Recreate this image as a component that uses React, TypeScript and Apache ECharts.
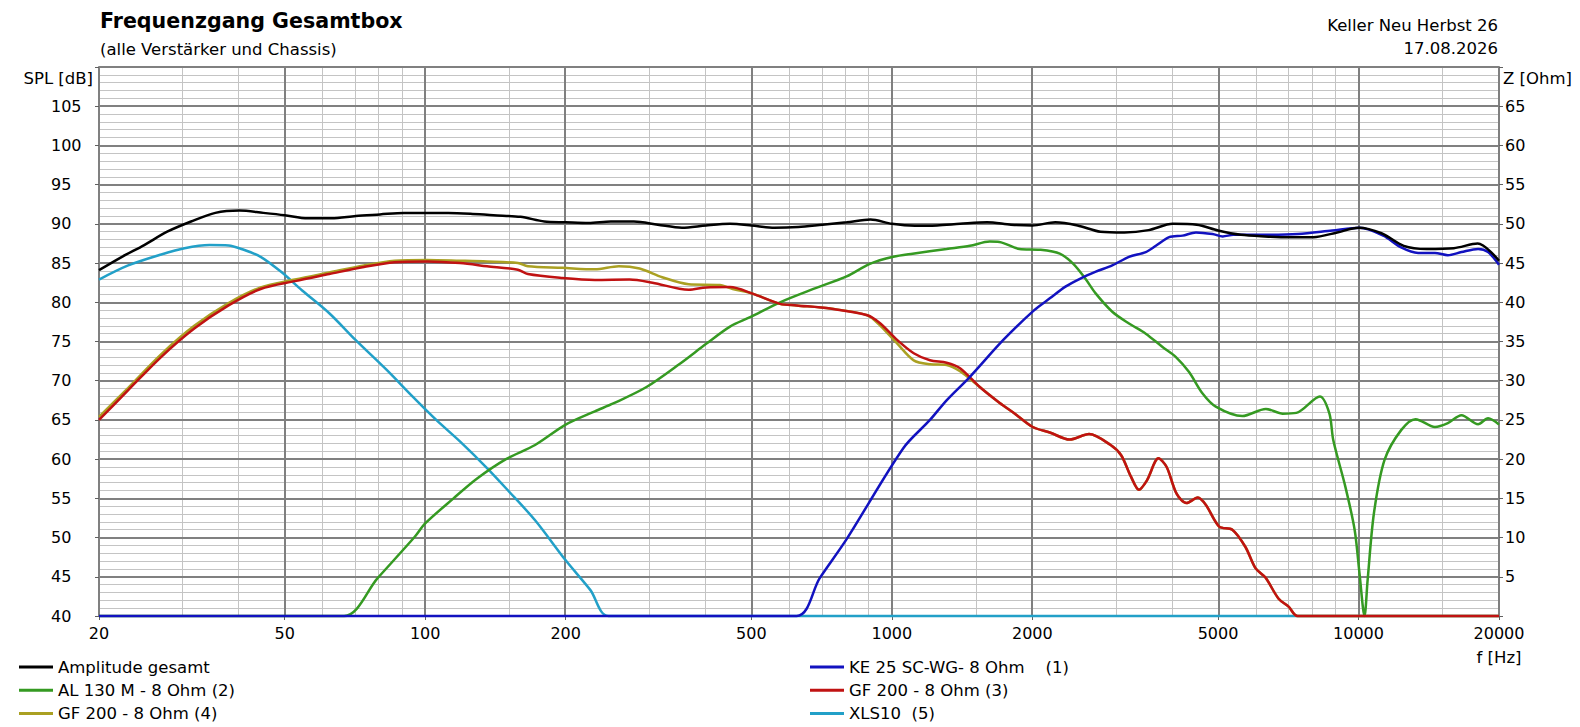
import React, { useEffect, useRef } from 'react';
import * as echarts from 'echarts';

const FONT = '"DejaVu Sans", Verdana, sans-serif';

// ---------- data (frequency in Hz, SPL in dB) ----------
// Amplitude gesamt
const totalFreq = [20, 22.4, 25, 28, 31.5, 35.5, 40, 45, 50, 56, 63, 71, 80, 90, 100, 112, 125, 140, 160, 180, 200, 224, 250, 280, 315, 355, 400, 450, 500, 560, 630, 710, 800, 900, 1000, 1120, 1250, 1400, 1600, 1800, 2000, 2240, 2500, 2800, 3150, 3550, 4000, 4500, 5000, 5600, 6300, 7100, 8000, 9000, 10000, 11200, 12500, 14000, 16000, 18000, 20000];
const totalSpl = [84.1, 85.8, 87.3, 89.0, 90.3, 91.4, 91.7, 91.4, 91.1, 90.7, 90.7, 91.0, 91.2, 91.4, 91.4, 91.4, 91.3, 91.1, 90.9, 90.3, 90.2, 90.1, 90.3, 90.3, 89.9, 89.5, 89.8, 90.0, 89.8, 89.5, 89.6, 89.9, 90.2, 90.55, 90.0, 89.75, 89.8, 90.0, 90.2, 89.9, 89.8, 90.2, 89.8, 89.0, 88.9, 89.2, 90.0, 89.9, 89.15, 88.6, 88.4, 88.3, 88.3, 88.9, 89.5, 88.8, 87.2, 86.8, 86.9, 87.5, 85.3];

// KE 25 SC-WG- 8 Ohm (1)
const keFreq = [20, 625, 700, 800, 1058, 1207, 1310, 1470, 1733, 2019, 2180, 2355, 2529, 2736, 2967, 3222, 3500, 3679, 3929, 4197, 4484, 4866, 5118, 5390, 6277, 7420, 8782, 10060, 11300, 12340, 13420, 14580, 15540, 16620, 18040, 18950, 20000];
const keSpl = [40, 40, 44.8, 49.8, 61.4, 65.0, 67.5, 70.5, 75.2, 79.0, 80.5, 82.0, 83.0, 83.9, 84.7, 85.8, 86.4, 87.2, 88.3, 88.5, 88.9, 88.7, 88.4, 88.6, 88.6, 88.7, 89.15, 89.5, 88.5, 87.0, 86.3, 86.3, 86.0, 86.4, 86.8, 86.4, 84.8];

// AL 130 M - 8 Ohm (2)
const alFreq = [20, 67, 79, 95, 100, 115, 129, 149, 172, 200, 231, 253, 298, 352, 400, 450, 497, 576, 679, 800, 897, 1007, 1108, 1310, 1470, 1621, 1700, 1877, 2074, 2290, 2448, 2599, 2736, 2967, 3222, 3500, 3802, 4057, 4334, 4628, 4944, 5637, 6330, 6880, 7358, 8264, 8660, 8830, 9370, 9810, 10050, 10300, 10460, 10790, 11370, 12340, 13250, 14580, 15540, 16620, 18040, 18950, 20000];
const alSpl = [40, 40, 44.8, 50.1, 51.8, 55, 57.5, 60, 61.8, 64.4, 66.1, 67.1, 69.2, 72.2, 74.7, 76.9, 78.1, 80.0, 81.7, 83.3, 84.9, 85.8, 86.2, 86.8, 87.2, 87.75, 87.7, 86.8, 86.7, 86.2, 84.9, 83.0, 81.1, 78.8, 77.3, 76.0, 74.3, 73.05, 71.1, 68.4, 66.7, 65.5, 66.4, 65.8, 65.9, 68.0, 65.85, 62.4, 56.5, 51.0, 45.4, 40, 44.6, 53.1, 59.9, 63.7, 65.1, 64.1, 64.6, 65.6, 64.45, 65.2, 64.4];

// GF 200 - 8 Ohm (3)
const gf3Freq = [20, 23.1, 27.2, 32, 37.9, 44.4, 52.6, 62.3, 73.9, 86, 101, 118.7, 135.7, 158, 166, 196.8, 231, 274, 307, 367, 400, 450, 503, 576, 625, 738, 886, 945, 1026, 1114, 1207, 1310, 1400, 1543, 1700, 1829, 2004, 2180, 2405, 2646, 2943, 3100, 3252, 3384, 3521, 3727, 3880, 4075, 4278, 4525, 4710, 5029, 5365, 5724, 6014, 6318, 6742, 7082, 7400, 20000];
const gf3Spl = [65.0, 68.8, 73.05, 76.65, 79.6, 81.7, 82.7, 83.6, 84.5, 85.1, 85.2, 85.0, 84.6, 84.15, 83.6, 83.1, 82.85, 82.9, 82.5, 81.6, 81.9, 81.95, 81.1, 79.8, 79.6, 79.2, 78.35, 77.3, 75.2, 73.5, 72.6, 72.3, 71.6, 69.2, 67.2, 65.85, 64.1, 63.4, 62.5, 63.2, 61.8, 60.5, 57.8, 56.1, 57.3, 60.1, 59.0, 55.6, 54.4, 55.1, 54.15, 51.4, 51.0, 48.8, 46.1, 44.9, 42.2, 41.2, 40, 40];

// GF 200 - 8 Ohm (4)
const gf4Freq = [20, 23.1, 27.2, 32, 37.9, 44.4, 52.6, 62.3, 73.9, 86, 101, 118.7, 135.7, 158, 166, 196.8, 231, 260, 288, 322, 367, 428, 456, 503, 576, 625, 738, 886, 945, 1026, 1114, 1207, 1310, 1400, 1543, 1700, 1829, 2004, 2180, 2405, 2646, 2943, 3100, 3252, 3384, 3521, 3727, 3880, 4075, 4278, 4525, 4710, 5029, 5365, 5724, 6014, 6318, 6742, 7082, 7400, 20000];
const gf4Spl = [65.4, 69.1, 73.4, 77.0, 79.9, 81.9, 82.9, 83.8, 84.7, 85.3, 85.4, 85.3, 85.2, 85.0, 84.6, 84.4, 84.2, 84.6, 84.3, 83.2, 82.3, 82.2, 81.7, 81.1, 79.8, 79.6, 79.2, 78.35, 77.0, 74.75, 72.6, 72.1, 72.0, 71.2, 69.2, 67.2, 65.85, 64.1, 63.4, 62.5, 63.2, 61.8, 60.5, 57.8, 56.1, 57.3, 60.1, 59.0, 55.6, 54.4, 55.1, 54.15, 51.4, 51.0, 48.8, 46.1, 44.9, 42.2, 41.2, 40, 40];

// XLS10 (5)
const xlsFreq = [20, 23.1, 27.2, 30.5, 34.5, 37.9, 40.4, 44.4, 49.2, 54.5, 62.3, 70.9, 82.6, 93.9, 105.6, 119, 136, 150, 172, 200, 226, 247, 20000];
const xlsSpl = [82.9, 84.7, 86.1, 86.9, 87.3, 87.25, 86.8, 85.8, 83.85, 81.5, 78.6, 75.2, 71.4, 68.0, 65.0, 62.2, 58.8, 56.1, 52.2, 47.1, 43.3, 40, 40];

// axis ticks / grid
const xTickFreqs = [20, 50, 100, 200, 500, 1000, 2000, 5000, 10000, 20000];
const majorGridFreqs = [50, 100, 200, 500, 1000, 2000, 5000, 10000];
const minorGridFreqs = [30, 40, 60, 70, 80, 90, 150, 300, 400, 600, 700, 800, 900, 1500, 3000, 4000, 6000, 7000, 8000, 9000, 15000];

const NAME_TOTAL = 'Amplitude gesamt';
const NAME_AL = 'AL 130 M - 8 Ohm (2)';
const NAME_GF4 = 'GF 200 - 8 Ohm (4)';
const NAME_KE = 'KE 25 SC-WG- 8 Ohm    (1)';
const NAME_GF3 = 'GF 200 - 8 Ohm (3)';
const NAME_XLS = 'XLS10  (5)';

const toData = (f: number[], s: number[]) => f.map((v, i) => [Math.log10(v), s[i]]);

export default function App() {
  const ref = useRef<HTMLDivElement>(null);
  useEffect(() => {
    const chart = echarts.init(ref.current!, null, { renderer: 'svg' });
    const LOG_MIN = Math.log10(20);
    const LOG_MAX = Math.log10(20000);
    const xTickVals = xTickFreqs.map((f) => Math.log10(f));

    const curve = (name: string, color: string, f: number[], s: number[]) => ({
      type: 'line',
      name,
      data: toData(f, s),
      showSymbol: false,
      symbol: 'none',
      smooth: 0.3,
      clip: false,
      z: 3,
      silent: true,
      lineStyle: { color, width: 2.5 },
      itemStyle: { color },
      emphasis: { disabled: true },
    });

    const gridSeries = (name: string, freqs: number[], color: string, width: number, z: number) => ({
      type: 'line',
      name,
      data: [],
      z,
      silent: true,
      markLine: {
        silent: true,
        z,
        symbol: ['none', 'none'],
        label: { show: false },
        animation: false,
        emphasis: { disabled: true },
        lineStyle: { color, width, type: 'solid' },
        data: freqs.map((f) => ({ xAxis: Math.log10(f) })),
      },
    });

    const legendBase = {
      orient: 'vertical',
      top: 657,
      padding: 0,
      itemGap: 3.3,
      itemWidth: 34,
      itemHeight: 3,
      icon: 'rect',
      selectedMode: false,
      textStyle: { fontSize: 16.5, color: '#000', fontFamily: FONT, lineHeight: 20 },
    };

    const txt = (text: string, x: number, y: number, align: string, size: number, bold = false) => ({
      type: 'text',
      x,
      y,
      silent: true,
      style: {
        text,
        fill: '#000',
        fontSize: size,
        fontFamily: FONT,
        fontWeight: bold ? 'bold' : 'normal',
        align,
        textAlign: align,
        verticalAlign: 'middle',
        textVerticalAlign: 'middle',
      },
    });

    const option: any = {
      animation: false,
      backgroundColor: '#ffffff',
      textStyle: { fontFamily: FONT, color: '#000' },
      grid: { left: 99, right: 81, top: 67, bottom: 111, containLabel: false },
      xAxis: {
        type: 'value',
        min: LOG_MIN,
        max: LOG_MAX,
        axisLine: { show: true, onZero: false, lineStyle: { color: '#808080', width: 2 } },
        axisTick: { show: true, length: 4, customValues: xTickVals, lineStyle: { color: '#606060', width: 1 } },
        axisLabel: {
          show: true,
          customValues: xTickVals,
          formatter: (v: number) => String(Math.round(Math.pow(10, v))),
          color: '#000',
          fontSize: 16,
          fontFamily: FONT,
          margin: 9,
          showMinLabel: true,
          showMaxLabel: true,
          hideOverlap: false,
        },
        splitLine: { show: false },
      },
      yAxis: [
        {
          type: 'value',
          min: 40,
          max: 110,
          interval: 5,
          position: 'left',
          z: 1,
          axisLine: { show: true, lineStyle: { color: '#808080', width: 2 } },
          axisTick: { show: true, length: 4, lineStyle: { color: '#606060' } },
          axisLabel: {
            color: '#000',
            fontSize: 16,
            fontFamily: FONT,
            align: 'left',
            margin: 48,
            formatter: (v: number) => (v >= 110 ? '' : String(v)),
          },
          splitLine: { show: true, lineStyle: { color: '#808080', width: 2 } },
          minorTick: { show: false, splitNumber: 5 },
          minorSplitLine: { show: true, lineStyle: { color: '#c4c4c4', width: 1 } },
        },
        {
          type: 'value',
          min: 0,
          max: 70,
          interval: 5,
          position: 'right',
          z: 1,
          axisLine: { show: true, lineStyle: { color: '#808080', width: 2 } },
          axisTick: { show: true, length: 4, lineStyle: { color: '#606060' } },
          axisLabel: {
            color: '#000',
            fontSize: 16,
            fontFamily: FONT,
            margin: 6,
            formatter: (v: number) => (v <= 0 || v >= 70 ? '' : String(v)),
          },
          splitLine: { show: false },
        },
      ],
      legend: [
        { ...legendBase, left: 19, data: [NAME_TOTAL, NAME_AL, NAME_GF4] },
        { ...legendBase, left: 810, data: [NAME_KE, NAME_GF3, NAME_XLS] },
      ],
      graphic: [
        txt('Frequenzgang Gesamtbox', 100, 21, 'left', 20.6, true),
        txt('(alle Verstärker und Chassis)', 100, 49, 'left', 16.5),
        txt('Keller Neu Herbst 26', 1498, 25.5, 'right', 16.5),
        txt('17.08.2026', 1498, 48.5, 'right', 16.5),
        txt('SPL [dB]', 93, 78, 'right', 16.5),
        txt('Z [Ohm]', 1503, 78, 'left', 16.5),
        txt('f [Hz]', 1499, 657, 'center', 16.5),
      ],
      series: [
        gridSeries('_minorGrid', minorGridFreqs, '#c4c4c4', 1, 0),
        gridSeries('_majorGrid', majorGridFreqs, '#808080', 2, 2),
        curve(NAME_XLS, '#22a0c8', xlsFreq, xlsSpl),
        curve(NAME_GF4, '#aaa022', gf4Freq, gf4Spl),
        curve(NAME_AL, '#359a22', alFreq, alSpl),
        curve(NAME_GF3, '#c01212', gf3Freq, gf3Spl),
        curve(NAME_KE, '#1212c0', keFreq, keSpl),
        curve(NAME_TOTAL, '#000000', totalFreq, totalSpl),
      ],
    };
    chart.setOption(option);
    return () => chart.dispose();
  }, []);
  return (
    <div
      ref={ref}
      style={{ position: 'absolute', left: 0, top: 0, width: 1580, height: 727, background: '#fff' }}
    />
  );
}
